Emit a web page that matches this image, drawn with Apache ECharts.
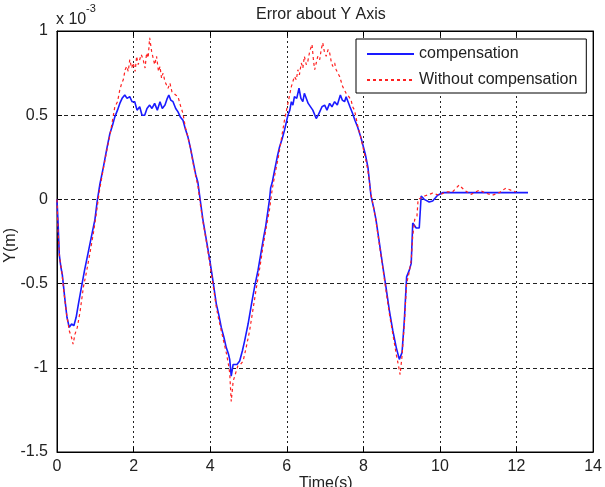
<!DOCTYPE html>
<html>
<head>
<meta charset="utf-8">
<script src="https://cdn.jsdelivr.net/npm/echarts@6/dist/echarts.min.js"></script>
<style>
  html, body { margin: 0; padding: 0; background: #fff; }
  #chart { width: 605px; height: 487px; }
</style>
</head>
<body>
<div id="chart"></div>
<script>
// time (s) and error (x 1e-3 m)
let compTime = [0, 0.03, 0.06, 0.1, 0.14, 0.2, 0.26, 0.32, 0.38, 0.44, 0.5, 0.56, 0.64, 0.72, 0.81, 0.9, 0.99, 1.05, 1.12, 1.21, 1.3, 1.38, 1.45, 1.51, 1.58, 1.64, 1.7, 1.77, 1.83, 1.9, 1.96, 2.03, 2.09, 2.16, 2.22, 2.29, 2.35, 2.42, 2.48, 2.55, 2.62, 2.69, 2.75, 2.82, 2.88, 2.92, 2.97, 3.03, 3.1, 3.16, 3.22, 3.29, 3.35, 3.42, 3.49, 3.55, 3.62, 3.68, 3.75, 3.81, 3.9, 3.99, 4.07, 4.16, 4.22, 4.29, 4.36, 4.42, 4.48, 4.51, 4.55, 4.6, 4.64, 4.7, 4.77, 4.84, 4.9, 4.99, 5.08, 5.16, 5.25, 5.34, 5.4, 5.45, 5.5, 5.55, 5.58, 5.62, 5.68, 5.75, 5.81, 5.88, 5.94, 6.03, 6.08, 6.12, 6.16, 6.2, 6.26, 6.32, 6.37, 6.42, 6.46, 6.51, 6.56, 6.6, 6.68, 6.77, 6.82, 6.86, 6.92, 6.99, 7.05, 7.12, 7.18, 7.25, 7.32, 7.4, 7.45, 7.51, 7.55, 7.59, 7.65, 7.72, 7.78, 7.85, 7.92, 7.98, 8.05, 8.12, 8.2, 8.27, 8.33, 8.42, 8.51, 8.59, 8.68, 8.77, 8.86, 8.94, 9.01, 9.07, 9.13, 9.2, 9.25, 9.29, 9.33, 9.38, 9.46, 9.51, 9.59, 9.72, 9.81, 9.94, 10.07, 10.4, 10.8, 11.2, 11.6, 12.0, 12.3];
let compErr = [0, -0.15, -0.33, -0.4, -0.45, -0.58, -0.7, -0.76, -0.74, -0.75, -0.7, -0.62, -0.52, -0.42, -0.32, -0.22, -0.12, -0.01, 0.09, 0.19, 0.3, 0.39, 0.44, 0.49, 0.53, 0.57, 0.6, 0.62, 0.6, 0.61, 0.58, 0.58, 0.53, 0.55, 0.5, 0.5, 0.54, 0.56, 0.54, 0.57, 0.53, 0.58, 0.54, 0.56, 0.6, 0.62, 0.59, 0.58, 0.54, 0.52, 0.49, 0.47, 0.42, 0.37, 0.3, 0.23, 0.15, 0.1, -0.02, -0.12, -0.24, -0.36, -0.48, -0.62, -0.68, -0.76, -0.82, -0.88, -0.92, -0.95, -1.05, -0.98, -0.99, -0.98, -0.96, -0.9, -0.84, -0.74, -0.62, -0.52, -0.42, -0.3, -0.22, -0.16, -0.08, 0, 0.07, 0.1, 0.17, 0.25, 0.31, 0.36, 0.41, 0.5, 0.53, 0.58, 0.56, 0.61, 0.6, 0.66, 0.6, 0.58, 0.63, 0.62, 0.57, 0.56, 0.53, 0.48, 0.5, 0.52, 0.55, 0.56, 0.53, 0.57, 0.55, 0.58, 0.56, 0.62, 0.59, 0.58, 0.61, 0.61, 0.55, 0.51, 0.47, 0.43, 0.38, 0.33, 0.27, 0.19, 0.02, -0.05, -0.12, -0.26, -0.4, -0.52, -0.66, -0.78, -0.88, -0.95, -0.91, -0.72, -0.46, -0.42, -0.38, -0.14, -0.13, -0.17, -0.17, 0.02, 0, -0.015, -0.01, 0.025, 0.04, 0.04, 0.04, 0.04, 0.04, 0.04, 0.04];

let rawTime = [0, 0.03, 0.07, 0.12, 0.18, 0.25, 0.32, 0.38, 0.42, 0.47, 0.53, 0.6, 0.69, 0.77, 0.86, 0.95, 1.03, 1.1, 1.2, 1.3, 1.38, 1.45, 1.51, 1.58, 1.64, 1.69, 1.73, 1.78, 1.82, 1.86, 1.9, 1.95, 1.99, 2.04, 2.08, 2.12, 2.16, 2.2, 2.25, 2.3, 2.34, 2.38, 2.42, 2.47, 2.51, 2.55, 2.6, 2.65, 2.69, 2.73, 2.77, 2.82, 2.86, 2.9, 2.95, 3.0, 3.03, 3.1, 3.16, 3.22, 3.29, 3.35, 3.42, 3.49, 3.55, 3.62, 3.68, 3.75, 3.81, 3.9, 3.99, 4.07, 4.16, 4.22, 4.29, 4.36, 4.42, 4.47, 4.51, 4.55, 4.6, 4.64, 4.68, 4.72, 4.79, 4.86, 4.94, 5.03, 5.12, 5.21, 5.3, 5.38, 5.47, 5.55, 5.62, 5.7, 5.78, 5.86, 5.94, 6.03, 6.12, 6.2, 6.25, 6.29, 6.33, 6.38, 6.42, 6.46, 6.51, 6.55, 6.6, 6.66, 6.7, 6.73, 6.77, 6.81, 6.86, 6.9, 6.94, 6.98, 7.03, 7.08, 7.12, 7.16, 7.2, 7.25, 7.29, 7.33, 7.38, 7.42, 7.46, 7.51, 7.55, 7.62, 7.68, 7.72, 7.77, 7.85, 7.92, 7.98, 8.05, 8.12, 8.2, 8.27, 8.33, 8.42, 8.51, 8.59, 8.68, 8.77, 8.86, 8.92, 8.96, 9.01, 9.07, 9.13, 9.2, 9.25, 9.29, 9.34, 9.4, 9.43, 9.6, 9.81, 9.98, 10.16, 10.33, 10.5, 10.64, 10.81, 11.03, 11.2, 11.37, 11.55, 11.72, 11.85, 11.98];
let rawErr = [0, -0.2, -0.35, -0.42, -0.55, -0.68, -0.78, -0.82, -0.86, -0.8, -0.76, -0.67, -0.52, -0.43, -0.32, -0.2, -0.08, 0.04, 0.17, 0.29, 0.38, 0.47, 0.55, 0.58, 0.65, 0.69, 0.71, 0.77, 0.79, 0.76, 0.83, 0.78, 0.81, 0.76, 0.85, 0.8, 0.79, 0.86, 0.83, 0.78, 0.87, 0.84, 0.96, 0.88, 0.89, 0.8, 0.85, 0.76, 0.79, 0.72, 0.75, 0.7, 0.71, 0.66, 0.69, 0.64, 0.65, 0.62, 0.61, 0.56, 0.51, 0.43, 0.37, 0.3, 0.22, 0.14, 0.08, -0.04, -0.13, -0.25, -0.38, -0.5, -0.64, -0.71, -0.78, -0.85, -0.91, -0.97, -1.03, -1.2, -1.08, -1.07, -1.02, -0.99, -0.98, -0.96, -0.88, -0.78, -0.65, -0.52, -0.4, -0.28, -0.16, -0.06, 0.06, 0.16, 0.25, 0.36, 0.47, 0.57, 0.67, 0.73, 0.71, 0.77, 0.74, 0.81, 0.78, 0.85, 0.8, 0.82, 0.88, 0.92, 0.82, 0.77, 0.81, 0.85, 0.83, 0.89, 0.93, 0.88, 0.85, 0.89, 0.87, 0.82, 0.79, 0.81, 0.77, 0.76, 0.73, 0.7, 0.67, 0.66, 0.63, 0.61, 0.59, 0.55, 0.53, 0.44, 0.38, 0.32, 0.25, 0.17, 0.03, -0.05, -0.13, -0.27, -0.41, -0.54, -0.68, -0.8, -0.92, -0.99, -1.04, -0.93, -0.74, -0.5, -0.43, -0.36, -0.22, -0.12, -0.1, 0, 0.02, 0.037, 0.025, 0.045, 0.045, 0.085, 0.055, 0.03, 0.055, 0.037, 0.025, 0.04, 0.067, 0.055, 0.045];

let seriesNames = ['compensation', 'Without compensation'];
let xTicks = { min: 0, max: 14, step: 2 };
let yTicks = { min: -1.5, max: 1, step: 0.5 };

function pairs(t, v) {
  return t.map((x, i) => [x, v[i]]);
}

let font = 'Liberation Sans, Arial, sans-serif';

let gridLine = (type) => ({ show: true, lineStyle: { color: '#222', width: 1, type: type } });

let boxAxis = (pos, min, max, step) => ({
  type: 'value', position: pos, min: min, max: max, interval: step,
  axisLine: { show: true, onZero: false, lineStyle: { color: '#000' } },
  axisTick: { show: true, inside: true, length: 5, lineStyle: { color: '#000' } },
  axisLabel: { show: false }, splitLine: { show: false }
});

let option = {
  animation: false,
  backgroundColor: '#fff',
  grid: { left: 57, right: 11, top: 31, bottom: 35, show: true, borderColor: '#000', borderWidth: 1, backgroundColor: '#fff' },
  graphic: [
    { type: 'text', left: 256, top: 7, style: { text: 'Error about Y Axis', font: '16px ' + font, fill: '#222' } },
    { type: 'text', left: 56, top: 12, style: { text: 'x 10', font: '16px ' + font, fill: '#222' } },
    { type: 'text', left: 86, top: 3, style: { text: '-3', font: '11px ' + font, fill: '#222' } },
    { type: 'text', left: 299, top: 476, style: { text: 'Time(s)', font: '16px ' + font, fill: '#222' } },
    { type: 'text', left: 3, top: 228, rotation: Math.PI / 2, style: { text: 'Y(m)', font: '16px ' + font, fill: '#222' } }
  ],
  legend: {
    orient: 'vertical',
    left: 356, top: 39,
    padding: [7, 9, 5, 10],
    itemWidth: 47, itemHeight: 14, itemGap: 10,
    borderColor: '#000', borderWidth: 1, backgroundColor: '#fff',
    itemStyle: { color: 'transparent', borderColor: 'transparent', borderWidth: 0 },
    textStyle: { fontFamily: font, fontSize: 16, color: '#222' },
    data: seriesNames
  },
  xAxis: [{
    type: 'value', min: xTicks.min, max: xTicks.max, interval: xTicks.step,
    axisLine: { show: true, onZero: false, lineStyle: { color: '#000' } },
    axisTick: { show: true, inside: true, length: 5, lineStyle: { color: '#000' } },
    axisLabel: { color: '#222', fontFamily: font, fontSize: 16, margin: 7 },
    splitLine: gridLine([2, 3])
  }, boxAxis('top', xTicks.min, xTicks.max, xTicks.step)],
  yAxis: [{
    type: 'value', min: yTicks.min, max: yTicks.max, interval: yTicks.step,
    axisLine: { show: true, onZero: false, lineStyle: { color: '#000' } },
    axisTick: { show: true, inside: true, length: 5, lineStyle: { color: '#000' } },
    axisLabel: { color: '#222', fontFamily: font, fontSize: 16, margin: 9 },
    splitLine: gridLine([4, 3])
  }, boxAxis('right', yTicks.min, yTicks.max, yTicks.step)],
  series: [
    {
      name: seriesNames[0], type: 'line', showSymbol: false, symbol: 'none',
      lineStyle: { color: '#1a1aff', width: 1.6 },
      itemStyle: { color: '#1a1aff' },
      data: pairs(compTime, compErr),
      z: 3
    },
    {
      name: seriesNames[1], type: 'line', showSymbol: false, symbol: 'none',
      lineStyle: { color: '#ff2020', width: 1.2, type: [3, 3] },
      itemStyle: { color: '#ff2020' },
      data: pairs(rawTime, rawErr),
      z: 4
    }
  ]
};

let myChart = echarts.init(document.getElementById('chart'));
myChart.setOption(option);
</script>
</body>
</html>
